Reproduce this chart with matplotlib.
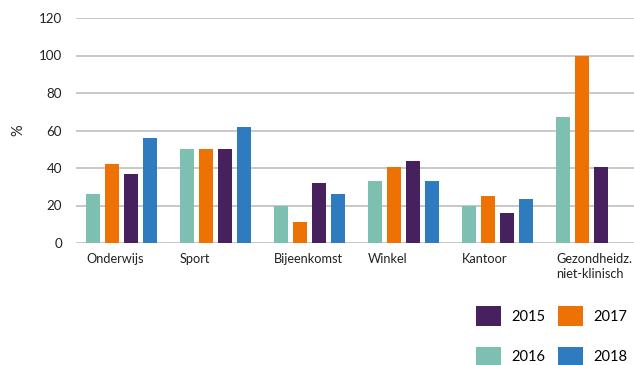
import numpy as np
import matplotlib
matplotlib.use("Agg")
import matplotlib.pyplot as plt

# categorieën en waarden (% per jaar)
categories = ["Onderwijs", "Sport", "Bijeenkomst", "Winkel", "Kantoor",
              "Gezondheidz.\nniet-klinisch"]
v2016 = [26, 50, 20, 33, 20, 67]
v2017 = [42, 50, 11, 40.5, 25, 100]
v2015 = [37, 50, 32, 44, 16, 40.5]
v2018 = [56, 62, 26, 33, 23.5, np.nan]

# volgorde van de balken binnen een groep
series = [
    ("2016", v2016, "#7dc0b1"),
    ("2017", v2017, "#ee7203"),
    ("2015", v2015, "#47205e"),
    ("2018", v2018, "#2e7bc0"),
]
legend_order = ["2015", "2016", "2017", "2018"]

plt.rcParams["font.family"] = ["Lato", "DejaVu Sans"]

fig = plt.figure(figsize=(6.34, 3.65), dpi=100)
ax = fig.add_axes([76 / 634, 122 / 365, 558 / 634, 225 / 365])

x = np.arange(len(categories))
width = 0.149
step = 0.202
handles = {}
for i, (name, vals, color) in enumerate(series):
    bars = ax.bar(x + (i - 1.5) * step, vals, width=width, color=color,
                  label=name, zorder=3)
    handles[name] = bars

ax.set_xlim(-0.484, 5.452)
ax.set_ylim(0, 120)
ax.set_yticks(range(0, 121, 20))
ax.yaxis.grid(True, color="#c8c8c8", linewidth=1.4, zorder=0)
ax.set_axisbelow(True)
for s in ax.spines.values():
    s.set_visible(False)
ax.tick_params(axis="both", length=0, labelsize=9.6, colors="#222222")
ax.tick_params(axis="x", labelsize=9.2, pad=7)
ax.tick_params(axis="y", pad=10)

# labels links uitgelijnd op de eerste balk van de groep
ax.set_xticks(x - 1.5 * step - width / 2)
ax.set_xticklabels(categories, ha="left", va="top", linespacing=1.35)

ax.set_ylabel("%", fontsize=10.5, color="#222222")
ax.yaxis.set_label_coords(-0.09, 0.5)

fig.legend([handles[n] for n in legend_order], legend_order, ncol=2,
           loc="upper left", bbox_to_anchor=(476 / 634, 59 / 365),
           frameon=False, fontsize=10.5, handlelength=1.7, handleheight=1.7,
           handletextpad=0.7, columnspacing=0.9, labelspacing=1.45,
           borderpad=0, borderaxespad=0)

fig.savefig("out.png", dpi=100)
